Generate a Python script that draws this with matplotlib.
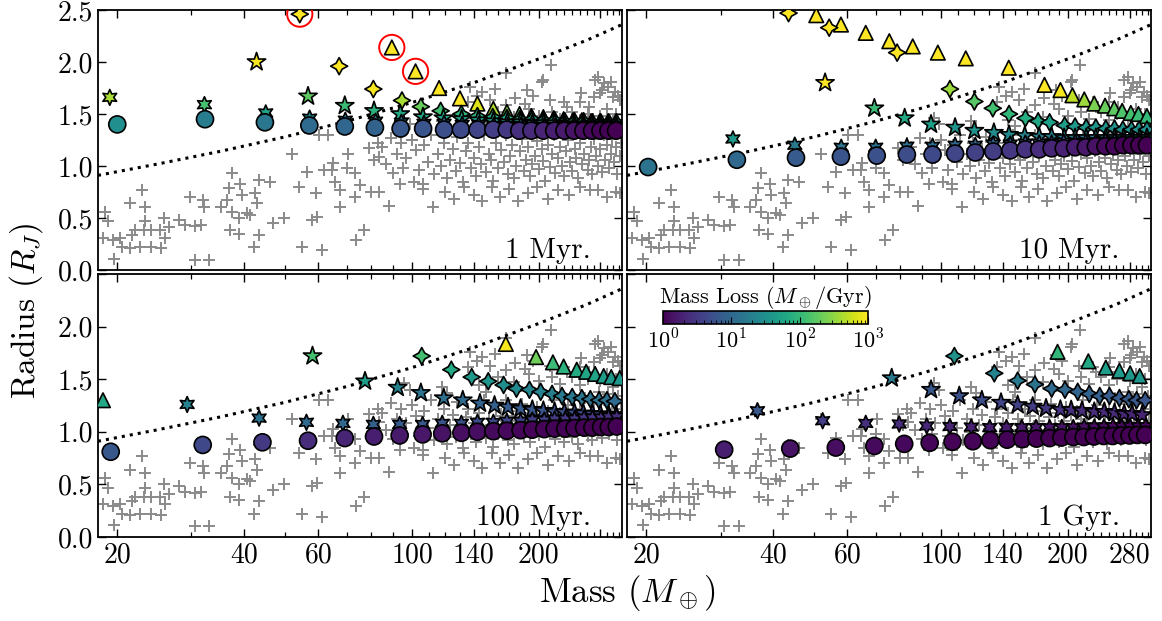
import numpy as np
import matplotlib
matplotlib.use('Agg')
import matplotlib.pyplot as plt
from matplotlib.colors import LogNorm
from matplotlib.ticker import FixedLocator, FixedFormatter, NullFormatter
import matplotlib.cm as cm

plt.rcParams['font.family'] = 'serif'
plt.rcParams['font.serif'] = ['cmr10']
plt.rcParams['mathtext.fontset'] = 'cm'
plt.rcParams['axes.unicode_minus'] = False
plt.rcParams['axes.formatter.use_mathtext'] = True

# ---------------- observed planets (gray crosses) ----------------
obs_mass = [18.7, 19.0, 18.5, 19.5, 20.3, 19.6, 20.5, 21.4, 22.9, 23.3, 21.4, 21.7, 22.0, 22.6, 23.3, 23.2, 24.0, 24.0,
            25.4, 25.3, 25.9, 26.5, 25.8, 28.0, 29.0, 29.8, 30.6, 31.6, 31.9, 32.2, 30.6, 33.1, 35.3, 36.5, 36.8, 37.5,
            37.5, 39.2, 39.5, 38.9, 40.6, 41.4, 42.5, 42.9, 43.3, 46.0, 37.1, 38.9, 43.3, 42.1, 46.9, 49.8, 52.0, 53.9,
            56.5, 59.1, 58.0, 59.6, 54.9, 61.2, 61.8, 64.5, 65.1, 65.7, 67.5, 67.5, 70.6, 70.0, 73.1, 73.1, 75.2, 77.1,
            73.7, 60.1, 63.4, 79.2, 81.4, 82.9, 83.6, 79.9, 83.6,
            96, 99, 118, 121, 137, 143, 147, 157, 153, 136, 167, 167, 176, 185, 187, 194, 203, 205, 212, 214, 233, 250,
            252, 271, 272, 277, 282, 286, 292, 296, 300, 303, 308, 311, 280, 144, 150, 262, 240, 225, 305, 290, 200, 175,
            190, 263, 230, 160, 215, 250, 280, 300,
            85, 87, 89, 90, 92, 94, 95, 97, 100, 101, 102, 104, 106, 107, 109, 111, 113, 115, 117, 119, 121, 123, 125,
            127, 128, 130, 132, 134, 136, 138, 140, 142, 144, 146, 148, 150, 152, 154, 156, 158, 160, 163, 165, 167,
            169, 171, 173, 175, 177, 180, 182, 184, 186, 189, 191, 193, 196, 198, 200, 203, 205, 207, 210, 212, 215,
            217, 219, 222, 224, 227, 229, 232, 235, 237, 240, 243, 245, 248, 250, 253, 256, 258, 261, 263, 266, 268,
            271, 273, 276, 278, 280, 283, 285, 287, 290, 292, 294, 297, 299, 302, 304, 307, 309, 312, 314,
            88, 93.7, 106, 112, 120, 126, 133, 140, 147, 155, 162, 170, 178, 188, 198, 210, 222, 236, 250, 264, 277,
            290, 305, 311]
obs_radius = [0.56, 0.47, 0.31, 0.29, 0.31, 0.11, 0.22, 0.64, 0.77, 0.61, 0.21, 0.34, 0.38, 0.22, 0.47, 0.38, 0.38, 0.22,
              0.21, 0.38, 0.31, 0.41, 0.50, 0.48, 0.43, 0.70, 0.42, 0.43, 0.67, 0.61, 0.10, 0.10, 0.61, 0.67, 0.79, 0.93,
              0.56, 0.83, 0.72, 0.50, 0.55, 0.53, 0.74, 0.64, 0.87, 0.85, 0.38, 0.35, 0.34, 0.22, 0.45, 0.50, 1.12, 0.80,
              0.94, 0.74, 0.48, 0.51, 0.22, 0.19, 0.96, 0.96, 1.03, 0.85, 0.77, 0.61, 1.12, 0.98, 0.93, 0.70, 0.82, 0.38,
              0.29, 1.30, 1.30, 1.17, 1.06, 1.22, 1.09, 0.75, 0.75,
              1.46, 1.40, 1.43, 1.37, 1.76, 1.67, 1.71, 1.74, 1.63, 1.62, 1.89, 1.59, 1.65, 1.60, 1.73, 1.67, 1.81, 1.83,
              1.63, 1.97, 1.57, 1.62, 1.70, 1.66, 1.83, 1.86, 1.73, 1.80, 1.76, 1.81, 1.66, 1.71, 1.67, 1.63, 1.70, 1.44,
              1.38, 1.50, 1.52, 1.45, 1.50, 1.55, 1.48, 1.47, 1.55, 1.57, 1.62, 1.52, 1.52, 1.44, 1.48, 1.43,
              1.18, 1.02, 1.27, 0.93, 1.12, 1.22, 0.98, 1.08, 1.25, 0.85, 1.15, 0.96, 0.83, 1.20, 1.04, 1.30, 0.92, 1.12,
              1.00, 1.22, 0.88, 1.06, 1.16, 0.95, 1.28, 1.03, 0.85, 1.14, 1.22, 0.98, 1.08, 0.90, 1.18, 1.02, 1.30, 0.94,
              1.12, 1.06, 0.86, 1.22, 0.98, 1.15, 1.04, 1.30, 0.92, 1.10, 1.20, 0.88, 1.00, 1.14, 1.26, 0.95, 1.06, 1.18,
              0.90, 1.02, 1.10, 1.24, 0.97, 1.16, 1.05, 0.86, 1.20, 0.99, 1.12, 1.30, 0.93, 1.08, 1.18, 1.00, 0.90, 1.14,
              1.25, 1.04, 0.95, 1.16, 1.08, 0.88, 1.22, 1.02, 1.12, 1.32, 0.96, 1.06, 1.18, 0.92, 1.26, 1.10, 1.00, 1.38,
              1.16, 0.94, 1.30, 1.06, 1.20, 1.36, 0.98, 1.12, 1.26, 1.04, 1.18, 0.92, 1.34, 1.10, 1.22,
              0.62, 0.83, 0.78, 0.61, 0.75, 0.68, 0.80, 0.72, 0.66, 0.80, 0.70, 0.78, 0.66, 0.74, 0.80, 0.68, 0.77, 0.72,
              0.80, 0.77, 0.77, 0.70, 0.75, 0.74]

# dotted curve
curve_mass = [18, 25, 35, 50, 70, 100, 140, 200, 260, 315]
curve_radius = [0.91, 1.02, 1.14, 1.28, 1.43, 1.61, 1.80, 2.03, 2.21, 2.36]

# ---------------- 1 Myr ----------------
m1_circ = [20.0, 32.3, 44.8, 57.1, 69.3, 81.7, 94.0, 106.3, 119.2, 130.7, 143.1, 156.0, 167.8, 179.7, 192.0, 205.0,
           217.5, 230.0, 242.5, 255.0, 267.5, 280.0, 292.5, 305.0]
r1_circ = [1.40, 1.45, 1.42, 1.39, 1.38, 1.37, 1.36, 1.36, 1.35, 1.35, 1.35, 1.35, 1.35, 1.34, 1.34, 1.34, 1.34, 1.34,
           1.34, 1.34, 1.34, 1.34, 1.34, 1.34]
l1_circ = [30, 18, 15, 11, 9.5, 8.5, 6.5, 6, 5.2, 4.6, 4, 3.5, 3.1, 2.6, 2.3, 2.0, 1.8, 1.6, 1.45, 1.3, 1.15, 1.07,
           1.03, 1.0]
m1_hex = [19.2, 32.2, 45.0, 57.2, 69.5, 82.0, 94.4, 106.8, 119.2, 131.6, 144.0, 156.4, 168.8, 181.2, 193.6, 206.0,
          218.4, 230.8, 243.2, 255.6, 268.0, 280.4, 292.8, 305.2]
r1_hex = [1.66, 1.59, 1.51, 1.46, 1.44, 1.43, 1.42, 1.41, 1.41, 1.40, 1.40, 1.39, 1.39, 1.39, 1.38, 1.38, 1.38, 1.38,
          1.38, 1.38, 1.38, 1.38, 1.38, 1.38]
l1_hex = [400, 130, 55, 22, 18, 16, 15, 14, 13, 12, 11, 10.5, 10, 9.5, 9, 8.5, 8, 7.5, 7, 7, 6.5, 6.5, 6, 6]
m1_star = [42.8, 56.7, 69.3, 81.3, 93.8, 106.2, 118.8, 131.2, 143.6, 156.0, 168.4, 180.8, 193.2, 205.6, 218.0,
           230.4, 242.8, 255.2, 267.6, 280.0, 292.4, 304.8]
r1_star = [2.00, 1.67, 1.58, 1.53, 1.50, 1.47, 1.46, 1.45, 1.44, 1.43, 1.42, 1.42, 1.41, 1.41, 1.41, 1.40, 1.40,
           1.40, 1.40, 1.40, 1.40, 1.40]
l1_star = [900, 180, 110, 83, 65, 58, 52, 48, 45, 42, 40, 38, 36, 35, 34, 33, 32, 31, 30, 30, 29, 29]
m1_diam = [54.2, 67.2, 81.0, 94.7, 105.0, 117.0, 131.0, 143.0, 155.5, 168.0, 180.5, 193.0, 205.5, 218.0, 230.5,
           243.0, 255.5, 268.0, 280.5, 293.0, 305.5]
r1_diam = [2.46, 1.96, 1.74, 1.63, 1.57, 1.53, 1.50, 1.48, 1.47, 1.46, 1.45, 1.45, 1.44, 1.44, 1.43, 1.43, 1.43,
           1.42, 1.42, 1.42, 1.42]
l1_diam = [1000, 1000, 900, 400, 200, 120, 95, 85, 78, 72, 68, 64, 60, 58, 56, 54, 52, 50, 49, 48, 47]
m1_tri = [89.6, 102.0, 116.0, 130.0, 143.0, 156.0, 168.0, 180.0, 192.0, 205.0, 217.0, 229.0, 241.0, 253.0, 266.0,
          279.0, 292.0, 305.0]
r1_tri = [2.14, 1.91, 1.75, 1.65, 1.60, 1.55, 1.52, 1.50, 1.48, 1.47, 1.46, 1.45, 1.44, 1.44, 1.43, 1.43, 1.43, 1.43]
l1_tri = [1000, 1000, 1000, 1000, 700, 430, 250, 180, 126, 100, 83, 68, 55, 48, 42, 38, 35, 32]
m1_flag = [54.2, 89.6, 102.0]
r1_flag = [2.46, 2.14, 1.91]

# ---------------- 10 Myr ----------------
m2_circ = [20.2, 32.8, 45.3, 57.9, 70.4, 83.0, 95.5, 108.0, 120.6, 133.0, 146.0, 158.5, 171.0, 183.0, 195.5, 208.0,
           220.5, 233.0, 245.5, 258.0, 270.5, 283.0, 295.5, 308.0]
r2_circ = [0.99, 1.06, 1.08, 1.09, 1.10, 1.11, 1.11, 1.12, 1.13, 1.14, 1.15, 1.16, 1.16, 1.17, 1.17, 1.18, 1.18,
           1.19, 1.19, 1.19, 1.20, 1.20, 1.20, 1.20]
l2_circ = [14, 10, 7, 6, 5.5, 5, 4.6, 4.2, 3.8, 3.4, 3.0, 2.7, 2.4, 2.1, 1.9, 1.7, 1.5, 1.35, 1.2, 1.1, 1.05, 1.0,
           1.0, 1.0]
m2_hex = [32.1, 45.0, 58.0, 70.0, 83.0, 95.5, 108.0, 120.6, 133.0, 146.0, 158.5, 171.0, 183.0, 195.5, 208.0, 220.5,
          233.0, 245.5, 258.0, 270.5, 283.0, 295.5, 308.0]
r2_hex = [1.26, 1.20, 1.18, 1.18, 1.19, 1.19, 1.20, 1.20, 1.21, 1.21, 1.22, 1.22, 1.22, 1.23, 1.23, 1.23, 1.23,
          1.24, 1.24, 1.24, 1.24, 1.24, 1.24]
l2_hex = [40, 16, 14, 13, 12, 11, 10, 9.5, 9, 8.5, 8, 7.5, 7, 6.8, 6.5, 6.2, 6, 5.8, 5.6, 5.4, 5.2, 5, 5]
m2_star = [53.1, 69.5, 82.0, 94.7, 108.0, 120.0, 133.5, 145.0, 158.0, 171.0, 183.0, 196.0, 208.0, 221.0, 233.0,
           246.0, 258.0, 271.0, 283.0, 296.0, 308.0]
r2_star = [1.80, 1.555, 1.46, 1.40, 1.37, 1.34, 1.32, 1.30, 1.29, 1.28, 1.28, 1.27, 1.27, 1.27, 1.27, 1.27, 1.27,
           1.27, 1.27, 1.27, 1.27]
l2_star = [1000, 110, 63, 45, 36, 32, 28, 25, 23, 21, 20, 19, 18, 17.5, 17, 16.5, 16, 15.5, 15, 15, 15]
m2_diam = [43.5, 54.3, 78.7, 105.0, 120.0, 132.7, 145.0, 158.6, 170.0, 181.0, 196.5, 208.0, 221.0, 233.0, 246.0,
           258.0, 270.0, 283.0, 295.0, 308.0]
r2_diam = [2.47, 2.33, 2.09, 1.74, 1.62, 1.555, 1.50, 1.46, 1.43, 1.42, 1.39, 1.38, 1.37, 1.37, 1.36, 1.36, 1.35,
           1.35, 1.35, 1.35]
l2_diam = [1000, 1000, 1000, 350, 160, 126, 95, 72, 58, 50, 45, 42, 40, 38, 36, 35, 34, 33, 32, 31]
m2_tri = [50.6, 57.9, 66.3, 75.4, 85.7, 98.3, 114.5, 144.8, 176.0, 192.0, 205.0, 218.7, 231.0, 245.0, 257.6, 269.0,
          282.0, 294.0, 308.0]
r2_tri = [2.45, 2.36, 2.28, 2.20, 2.15, 2.09, 2.035, 1.945, 1.78, 1.73, 1.68, 1.64, 1.60, 1.58, 1.555, 1.53, 1.51,
          1.50, 1.48]
l2_tri = [1000, 1000, 1000, 1000, 1000, 1000, 1000, 1000, 1000, 900, 500, 350, 250, 200, 180, 145, 126, 110, 100]

# ---------------- 100 Myr ----------------
m3_circ = [19.3, 31.9, 44.2, 56.7, 69.3, 81.3, 93.5, 106.0, 118.0, 131.0, 143.0, 156.0, 168.0, 181.0, 193.0, 206.0,
           218.0, 231.0, 243.0, 256.0, 268.0, 281.0, 293.0, 306.0]
r3_circ = [0.81, 0.875, 0.90, 0.915, 0.94, 0.955, 0.965, 0.975, 0.985, 0.99, 1.00, 1.005, 1.01, 1.015, 1.02, 1.025,
           1.03, 1.03, 1.035, 1.04, 1.04, 1.045, 1.045, 1.05]
l3_circ = [6.5, 4.5, 3.2, 2.4, 2.0, 1.8, 1.6, 1.5, 1.4, 1.3, 1.25, 1.2, 1.15, 1.1, 1.08, 1.06, 1.05, 1.04, 1.03, 1.02,
           1.01, 1.0, 1.0, 1.0]
m3_hex = [29.3, 43.4, 56.2, 68.6, 81.0, 93.5, 106.0, 118.0, 131.0, 143.0, 156.0, 168.0, 181.0, 193.0, 206.0, 218.0,
          231.0, 243.0, 256.0, 268.0, 281.0, 293.0, 306.0]
r3_hex = [1.26, 1.13, 1.09, 1.08, 1.07, 1.07, 1.07, 1.08, 1.08, 1.09, 1.09, 1.10, 1.10, 1.11, 1.11, 1.12, 1.12, 1.12,
          1.13, 1.13, 1.13, 1.14, 1.14]
l3_hex = [21, 13, 11, 10, 8, 7, 6.5, 6, 5.5, 5, 4.5, 4.2, 4, 3.7, 3.5, 3.3, 3.1, 3, 2.9, 2.8, 2.7, 2.6, 2.5]
m3_star = [58.1, 77.4, 92.5, 105.0, 119.0, 132.0, 145.0, 157.0, 169.0, 181.0, 193.0, 205.0, 218.0, 230.0, 243.0,
           255.0, 268.0, 280.0, 293.0, 305.0]
r3_star = [1.72, 1.48, 1.42, 1.37, 1.32, 1.30, 1.27, 1.25, 1.235, 1.22, 1.21, 1.20, 1.19, 1.185, 1.18, 1.175, 1.17,
           1.165, 1.16, 1.16]
l3_star = [126, 45, 22, 14, 12, 10.5, 9, 8, 7.5, 7, 6.5, 6, 5.7, 5.4, 5.1, 4.8, 4.6, 4.4, 4.2, 4.0]
m3_diam = [105.5, 124.0, 138.6, 151.7, 165.0, 177.0, 190.0, 202.0, 215.0, 227.0, 240.0, 253.0, 265.0, 278.0, 290.0,
           303.0]
r3_diam = [1.72, 1.59, 1.52, 1.48, 1.445, 1.41, 1.40, 1.38, 1.36, 1.34, 1.33, 1.32, 1.31, 1.30, 1.30, 1.29]
l3_diam = [126, 65, 42, 36, 30, 26, 23, 21, 19, 17, 16, 15, 14, 13, 12, 11]
m3_tri = [18.5, 167.0, 197.0, 216.0, 229.0, 246.0, 259.0, 272.0, 285.0, 297.0, 311.0]
r3_tri = [1.30, 1.835, 1.71, 1.66, 1.62, 1.59, 1.57, 1.55, 1.53, 1.52, 1.51]
l3_tri = [63, 900, 220, 110, 83, 68, 60, 55, 45, 40, 38]

# ---------------- 1 Gyr ----------------
m4_circ = [30.6, 43.9, 56.3, 69.5, 81.8, 94.0, 106.5, 119.0, 131.0, 143.5, 156.0, 168.5, 181.0, 193.0, 206.0, 218.0,
           230.5, 243.0, 255.5, 268.0, 280.0, 292.5, 305.0]
r4_circ = [0.83, 0.84, 0.85, 0.865, 0.885, 0.895, 0.905, 0.91, 0.92, 0.925, 0.93, 0.935, 0.94, 0.945, 0.95, 0.95,
           0.955, 0.96, 0.96, 0.965, 0.965, 0.97, 0.97]
l4_circ = [1.8, 1.4, 1.25, 1.2, 1.15, 1.1, 1.08, 1.06, 1.05, 1.04, 1.03, 1.02, 1.01, 1, 1, 1, 1, 1, 1, 1, 1, 1, 1]
m4_hex = [36.7, 52.4, 66.3, 79.6, 92.5, 105.0, 118.0, 130.5, 143.0, 155.5, 168.0, 181.0, 193.5, 206.0, 218.5, 231.0,
          243.5, 256.0, 268.5, 281.0, 293.5, 306.0]
r4_hex = [1.20, 1.105, 1.08, 1.074, 1.055, 1.05, 1.045, 1.04, 1.04, 1.04, 1.04, 1.04, 1.04, 1.04, 1.045, 1.045,
          1.045, 1.05, 1.05, 1.05, 1.05, 1.05]
l4_hex = [6.5, 3.5, 2.6, 2.4, 2.2, 2.0, 1.9, 1.8, 1.7, 1.6, 1.5, 1.45, 1.4, 1.35, 1.3, 1.25, 1.2, 1.2, 1.15, 1.15,
          1.1, 1.1]
m4_star = [76.4, 94.7, 110.5, 125.0, 138.8, 152.0, 165.0, 177.5, 192.0, 203.6, 216.0, 231.0, 244.0, 258.0, 272.0,
           284.0, 300.0]
r4_star = [1.51, 1.40, 1.34, 1.30, 1.277, 1.255, 1.24, 1.223, 1.21, 1.207, 1.20, 1.19, 1.19, 1.18, 1.17, 1.17, 1.16]
l4_star = [16, 6.5, 5.5, 5, 4.2, 3.8, 3.4, 3.1, 2.8, 2.6, 2.5, 2.4, 2.3, 2.2, 2.1, 2.0, 2.0]
m4_diam = [107.6, 133.8, 152.0, 167.0, 183.0, 196.8, 211.0, 224.8, 238.0, 251.0, 265.0, 279.0, 291.0, 305.0]
r4_diam = [1.72, 1.556, 1.486, 1.45, 1.41, 1.40, 1.38, 1.36, 1.34, 1.34, 1.32, 1.31, 1.30, 1.30]
l4_diam = [32, 21, 17, 14, 11, 10, 9, 8.5, 8, 7.5, 7, 6.8, 6.5, 6.3]
m4_tri = [189.0, 223.6, 246.0, 265.0, 281.0, 296.0]
r4_tri = [1.76, 1.67, 1.61, 1.58, 1.556, 1.53]
l4_tri = [95, 63, 45, 42, 40, 38]

panel_labels = ['1 Myr.', '10 Myr.', '100 Myr.', '1 Gyr.']
x_major = [20, 40, 60, 100, 140, 200, 280]
x_labels_left = ['20', '40', '60', '100', '140', '200', '']
x_labels_right = ['20', '40', '60', '100', '140', '200', '280']
y_major = [0.0, 0.5, 1.0, 1.5, 2.0, 2.5]

panels = [
    dict(tri=(m1_tri, r1_tri, l1_tri), diam=(m1_diam, r1_diam, l1_diam), star=(m1_star, r1_star, l1_star),
         hex=(m1_hex, r1_hex, l1_hex), circ=(m1_circ, r1_circ, l1_circ), flag=(m1_flag, r1_flag)),
    dict(tri=(m2_tri, r2_tri, l2_tri), diam=(m2_diam, r2_diam, l2_diam), star=(m2_star, r2_star, l2_star),
         hex=(m2_hex, r2_hex, l2_hex), circ=(m2_circ, r2_circ, l2_circ)),
    dict(tri=(m3_tri, r3_tri, l3_tri), diam=(m3_diam, r3_diam, l3_diam), star=(m3_star, r3_star, l3_star),
         hex=(m3_hex, r3_hex, l3_hex), circ=(m3_circ, r3_circ, l3_circ)),
    dict(tri=(m4_tri, r4_tri, l4_tri), diam=(m4_diam, r4_diam, l4_diam), star=(m4_star, r4_star, l4_star),
         hex=(m4_hex, r4_hex, l4_hex), circ=(m4_circ, r4_circ, l4_circ)),
]

norm = LogNorm(vmin=1, vmax=1000)
cmap = plt.get_cmap('viridis')

fig = plt.figure(figsize=(11.62, 6.21), dpi=100)
W = 0.4510
rects = [[0.0843, 0.5652, W, 0.4187], [0.5396, 0.5652, W, 0.4187],
         [0.0843, 0.1353, W, 0.4235], [0.5396, 0.1353, W, 0.4235]]

marker_specs = [('tri', '^', 110), ('diam', (4, 1, 0), 150), ('star', '*', 190),
                ('hex', (6, 1, 0), 130), ('circ', 'o', 150)]

axes = []
for i, (rect, pdata) in enumerate(zip(rects, panels)):
    ax = fig.add_axes(rect)
    axes.append(ax)
    ax.set_xscale('log')
    ax.set_xlim(18, 315)
    ax.set_ylim(0, 2.5)
    ax.plot(obs_mass, obs_radius, ls='none', marker='+', ms=9, mew=1.4, color='#8a8a8a', zorder=1)
    ax.plot(curve_mass, curve_radius, ls=':', color='black', lw=2.2, zorder=2)
    z = 3
    for key, mk, s in marker_specs:
        mm, rr, ll = pdata[key]
        ax.scatter(mm, rr, c=ll, cmap=cmap, norm=norm, marker=mk, s=s, edgecolors='black',
                   linewidths=1.2, zorder=z)
        z += 1
    if 'flag' in pdata:
        fm, fr = pdata['flag']
        ax.scatter(fm, fr, s=330, facecolors='none', edgecolors='red', linewidths=1.4, zorder=z + 1)
    ax.text(0.94, 0.045, panel_labels[i], transform=ax.transAxes, ha='right', va='baseline', fontsize=21)

    ax.xaxis.set_major_locator(FixedLocator(x_major))
    ax.xaxis.set_minor_locator(FixedLocator([v for v in range(20, 320, 10) if v not in x_major]))
    ax.xaxis.set_minor_formatter(NullFormatter())
    ax.yaxis.set_major_locator(FixedLocator(y_major))
    ax.tick_params(which='both', direction='in', top=True, right=True, labelsize=20)
    ax.tick_params(which='major', length=6, width=1.0)
    ax.tick_params(which='minor', length=3.5, width=0.9)
    for sp in ax.spines.values():
        sp.set_linewidth(1.3)
    if i in (0, 1):
        ax.xaxis.set_major_formatter(NullFormatter())
    elif i == 2:
        ax.xaxis.set_major_formatter(FixedFormatter(x_labels_left))
    else:
        ax.xaxis.set_major_formatter(FixedFormatter(x_labels_right))
    if i == 0:
        ax.yaxis.set_major_formatter(FixedFormatter(['0.0', '0.5', '1.0', '1.5', '2.0', '2.5']))
    elif i == 2:
        ax.yaxis.set_major_formatter(FixedFormatter(['0.0', '0.5', '1.0', '1.5', '2.0', '']))
    else:
        ax.yaxis.set_major_formatter(NullFormatter())

fig.text(0.022, 0.50, r'Radius $(R_J)$', rotation=90, va='center', ha='center', fontsize=24)
fig.text(0.54, 0.045, r'Mass $(M_\oplus)$', va='center', ha='center', fontsize=25)

cax = fig.add_axes([0.5706, 0.4783, 0.1764, 0.0209])
sm = cm.ScalarMappable(norm=norm, cmap=cmap)
cb = fig.colorbar(sm, cax=cax, orientation='horizontal')
cb.set_ticks([1, 10, 100, 1000])
cb.set_ticklabels([r'$10^{0}$', r'$10^{1}$', r'$10^{2}$', r'$10^{3}$'])
cax.tick_params(which='both', direction='in', labelsize=16, top=False, bottom=True)
cax.tick_params(which='major', length=5)
cax.tick_params(which='minor', length=3)
cb.outline.set_linewidth(1.2)
cax.set_title(r'Mass Loss $(M_\oplus/\mathrm{Gyr})$', fontsize=16, pad=3)

fig.savefig('out.png', dpi=100)
